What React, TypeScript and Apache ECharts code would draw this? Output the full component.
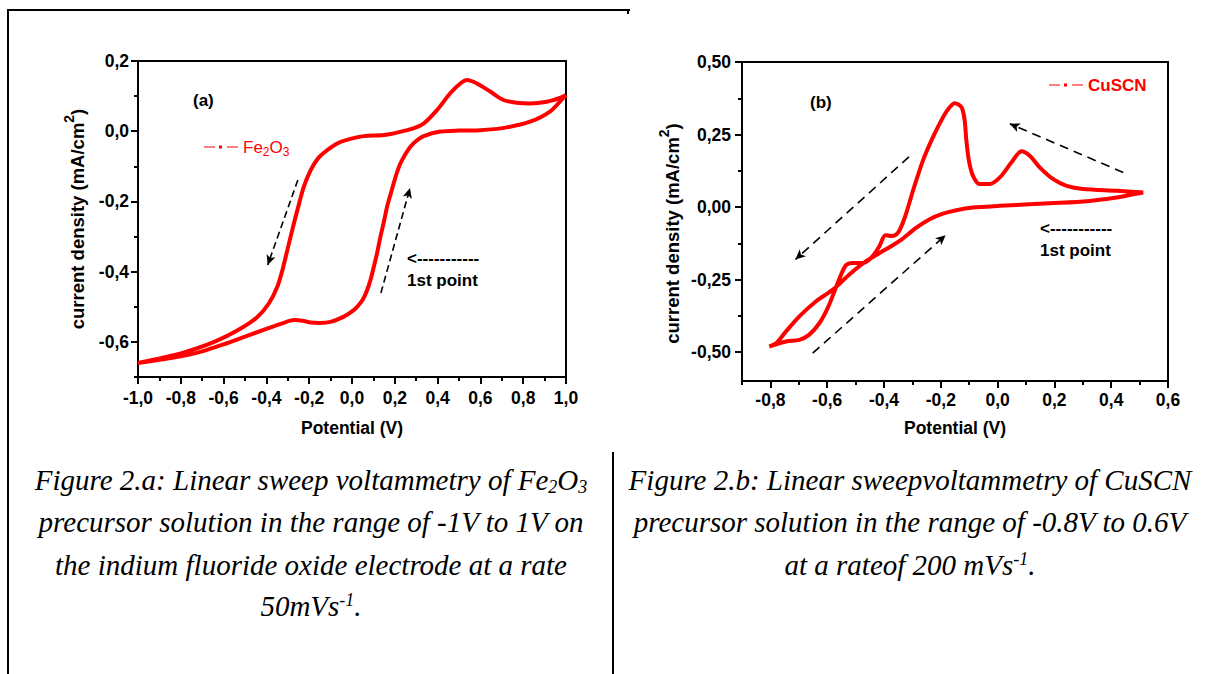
import { useEffect, useRef } from 'react';
import * as echarts from 'echarts';

const SANS = '"Liberation Sans", Arial, sans-serif';
const SERIF = '"Liberation Serif", "Times New Roman", serif';
const RED = '#ff0000';

// ---------- Panel (a): Fe2O3 ----------
const feReversePotential = [1.0, 0.972, 0.91, 0.832, 0.77, 0.708, 0.646, 0.584, 0.537, 0.506, 0.459, 0.397, 0.335, 0.287, 0.21, 0.148, 0.055, -0.02, -0.069, -0.133, -0.162, -0.193, -0.225, -0.255, -0.279, -0.302, -0.325, -0.349, -0.388, -0.442, -0.52, -0.644, -0.8, -0.9, -1.0];
const feReverseCurrent = [0.103, 0.095, 0.084, 0.079, 0.081, 0.089, 0.113, 0.136, 0.146, 0.136, 0.108, 0.06, 0.022, 0.008, -0.004, -0.011, -0.014, -0.024, -0.035, -0.062, -0.08, -0.111, -0.158, -0.224, -0.281, -0.338, -0.395, -0.443, -0.49, -0.529, -0.562, -0.6, -0.633, -0.647, -0.66];
const feForwardPotential = [-0.9, -0.8, -0.7, -0.6, -0.5, -0.4, -0.33, -0.271, -0.23, -0.193, -0.15, -0.1, -0.038, 0.0, 0.024, 0.05, 0.071, 0.088, 0.102, 0.118, 0.133, 0.149, 0.164, 0.18, 0.195, 0.21, 0.226, 0.25, 0.273, 0.3, 0.335, 0.413, 0.5, 0.599, 0.724, 0.832, 0.925, 0.986, 1.0];
const feForwardCurrent = [-0.651, -0.641, -0.627, -0.607, -0.585, -0.563, -0.548, -0.538, -0.54, -0.545, -0.546, -0.543, -0.528, -0.513, -0.5, -0.48, -0.452, -0.42, -0.386, -0.345, -0.3, -0.258, -0.215, -0.18, -0.148, -0.118, -0.092, -0.065, -0.044, -0.028, -0.014, -0.001, 0.002, 0.003, 0.011, 0.027, 0.056, 0.094, 0.103];
const feXMajor = [-1, -0.8, -0.6, -0.4, -0.2, 0, 0.2, 0.4, 0.6, 0.8, 1];
const feXMinor = [-0.9, -0.7, -0.5, -0.3, -0.1, 0.1, 0.3, 0.5, 0.7, 0.9];
const feYMajor = [-0.6, -0.4, -0.2, 0, 0.2];
const feYMinor = [-0.7, -0.5, -0.3, -0.1, 0.1];
// sweep-direction arrows: [fromPotential, fromCurrent, toPotential, toCurrent]
const feArrows = [
  [-0.253, -0.139, -0.394, -0.381],
  [0.135, -0.461, 0.271, -0.162],
];

// ---------- Panel (b): CuSCN ----------
const cuForwardPotential = [0.513, 0.478, 0.419, 0.301, 0.125, 0.008, -0.087, -0.145, -0.192, -0.239, -0.286, -0.345, -0.404, -0.463, -0.522, -0.58, -0.639, -0.698, -0.745, -0.78, -0.804];
const cuForwardCurrent = [0.05, 0.044, 0.033, 0.019, 0.01, 0.004, -0.002, -0.011, -0.023, -0.042, -0.071, -0.117, -0.152, -0.187, -0.233, -0.285, -0.325, -0.377, -0.429, -0.47, -0.481];
const cuReversePotential = [-0.745, -0.698, -0.663, -0.627, -0.598, -0.574, -0.551, -0.533, -0.51, -0.475, -0.445, -0.416, -0.395, -0.374, -0.351, -0.327, -0.298, -0.263, -0.228, -0.192, -0.169, -0.151, -0.127, -0.116, -0.11, -0.101, -0.087, -0.063, -0.028, 0.008, 0.049, 0.084, 0.113, 0.149, 0.196, 0.243, 0.301, 0.419, 0.513];
const cuReverseCurrent = [-0.464, -0.458, -0.44, -0.4, -0.348, -0.29, -0.233, -0.2, -0.193, -0.193, -0.175, -0.135, -0.097, -0.1, -0.089, -0.037, 0.056, 0.16, 0.24, 0.31, 0.344, 0.358, 0.344, 0.298, 0.229, 0.16, 0.108, 0.079, 0.079, 0.102, 0.154, 0.192, 0.177, 0.136, 0.096, 0.073, 0.062, 0.056, 0.05];
const cuXMajor = [-0.8, -0.6, -0.4, -0.2, 0, 0.2, 0.4, 0.6];
const cuXMinor = [-0.9, -0.7, -0.5, -0.3, -0.1, 0.1, 0.3, 0.5];
const cuYMajor = [-0.5, -0.25, 0, 0.25, 0.5];
const cuYMinor = [-0.375, -0.125, 0.125, 0.375];
const cuArrows = [
  [-0.312, 0.173, -0.712, -0.181],
  [-0.651, -0.504, -0.183, -0.097],
  [0.4425, 0.119, 0.043, 0.287],
];

const zip = (xs: number[], ys: number[]) => xs.map((x, i) => [x, ys[i]]);
const comma = (d: number) => (v: number) => v.toFixed(d).replace('.', ',');

const labelFont = { color: '#000', fontSize: 17.5, fontWeight: 'bold' as const, fontFamily: SANS };
const axisLine = { show: true, onZero: false, lineStyle: { color: '#000', width: 2 } };

function mainX(gridIndex: number, min: number, max: number, major: number[], margin: number, nameGap: number) {
  return {
    type: 'value', gridIndex, min, max, position: 'bottom',
    axisLine,
    axisTick: { show: true, inside: false, length: 7, customValues: major, lineStyle: { color: '#000', width: 2 } },
    axisLabel: { show: true, customValues: major, margin, formatter: comma(1), ...labelFont },
    splitLine: { show: false },
    name: 'Potential (V)', nameLocation: 'middle', nameGap,
    nameTextStyle: { ...labelFont },
  };
}
function minorX(gridIndex: number, min: number, max: number, minor: number[]) {
  return {
    type: 'value', gridIndex, min, max, position: 'bottom',
    axisLine: { show: false, onZero: false },
    axisTick: { show: true, inside: false, length: 4, customValues: minor, lineStyle: { color: '#000', width: 2 } },
    axisLabel: { show: false }, splitLine: { show: false },
  };
}
function mainY(gridIndex: number, min: number, max: number, major: number[], dec: number, margin: number, nameGap: number, pad: number[]) {
  return {
    type: 'value', gridIndex, min, max, position: 'left',
    axisLine,
    axisTick: { show: true, inside: false, length: 7, customValues: major, lineStyle: { color: '#000', width: 2 } },
    axisLabel: { show: true, customValues: major, margin, formatter: comma(dec), ...labelFont },
    splitLine: { show: false },
    name: 'current density (mA/cm{sup|2})', nameLocation: 'middle', nameRotate: 90, nameGap,
    nameTextStyle: {
      ...labelFont, fontSize: 18.5, lineHeight: 30, padding: pad,
      rich: { sup: { fontSize: 14, lineHeight: 14, verticalAlign: 'top', fontWeight: 'bold', fontFamily: SANS, color: '#000' } },
    },
  };
}
function minorY(gridIndex: number, min: number, max: number, minor: number[]) {
  return {
    type: 'value', gridIndex, min, max, position: 'left',
    axisLine: { show: false, onZero: false },
    axisTick: { show: true, inside: false, length: 4, customValues: minor, lineStyle: { color: '#000', width: 2 } },
    axisLabel: { show: false }, splitLine: { show: false },
  };
}

const arrowLine = (arrows: number[][], dash: number[]) => ({
  silent: true,
  symbol: ['none', 'arrow'],
  symbolSize: [7, 10],
  label: { show: false },
  emphasis: { disabled: true },
  lineStyle: { color: '#000', width: 1.6, type: dash },
  data: arrows.map((a) => [{ coord: [a[0], a[1]] }, { coord: [a[2], a[3]] }]),
});

const LEGEND_ICON = 'path://M0,1h11v1h-11zM15,0h3v3h-3zM23,1h11v1h-11z';

const capRich = {
  n: { fontFamily: SERIF, fontStyle: 'italic', fontSize: 29, lineHeight: 31, fill: '#000' },
  s: { fontFamily: SERIF, fontStyle: 'italic', fontSize: 18, lineHeight: 18, verticalAlign: 'bottom', fill: '#000' },
  p: { fontFamily: SERIF, fontStyle: 'italic', fontSize: 18, lineHeight: 18, verticalAlign: 'top', fill: '#000' },
};
const caption = (text: string, x: number, y: number) => ({
  type: 'text', x, y, silent: true,
  style: { text, align: 'center', verticalAlign: 'middle', rich: capRich, fill: '#000' },
});
const note = (text: string, x: number, y: number) => ({
  type: 'text', x, y, silent: true,
  style: { text, align: 'left', verticalAlign: 'middle', font: `bold 17px ${SANS}`, fill: '#000' },
});
const rule = (x1: number, y1: number, x2: number, y2: number) => ({
  type: 'line', silent: true, shape: { x1, y1, x2, y2 }, style: { stroke: '#000', lineWidth: 2 },
});

export default function App() {
  const ref = useRef<HTMLDivElement>(null);
  useEffect(() => {
    if (!ref.current) return;
    const chart = echarts.init(ref.current, undefined, { renderer: 'svg' });
    const feData = zip(feReversePotential, feReverseCurrent).concat(zip(feForwardPotential, feForwardCurrent));
    const cuData = zip(cuForwardPotential, cuForwardCurrent).concat(zip(cuReversePotential, cuReverseCurrent));
    chart.setOption({
      animation: false,
      backgroundColor: '#fff',
      grid: [
        { left: 138, top: 61, width: 428, height: 316, show: true, borderColor: '#000', borderWidth: 2, backgroundColor: 'transparent', containLabel: false, outerBoundsMode: 'none' },
        { left: 742, top: 62, width: 426, height: 319, show: true, borderColor: '#000', borderWidth: 2, backgroundColor: 'transparent', containLabel: false, outerBoundsMode: 'none' },
      ],
      xAxis: [
        mainX(0, -1, 1, feXMajor, 12, 42),
        minorX(0, -1, 1, feXMinor),
        mainX(1, -0.9, 0.6, cuXMajor, 10, 38),
        minorX(1, -0.9, 0.6, cuXMinor),
      ],
      yAxis: [
        mainY(0, -0.7, 0.2, feYMajor, 1, 9, 46, [0, 0, 0, 0]),
        minorY(0, -0.7, 0.2, feYMinor),
        mainY(1, -0.6, 0.5, cuYMajor, 2, 11, 43, [0, 24, 0, 0]),
        minorY(1, -0.6, 0.5, cuYMinor),
      ],
      legend: [
        {
          data: ['Fe2O3'], left: 204, top: 136, padding: 0, selectedMode: false,
          icon: LEGEND_ICON, itemWidth: 34, itemHeight: 3, itemStyle: { borderWidth: 0 },
          formatter: () => '{n|Fe}{s|2}{n|O}{s|3}',
          textStyle: {
            color: RED, fontSize: 17, fontFamily: SANS, lineHeight: 22,
            rich: {
              n: { color: RED, fontSize: 17, fontFamily: SANS, lineHeight: 22 },
              s: { color: RED, fontSize: 12, fontFamily: SANS, lineHeight: 12, verticalAlign: 'bottom' },
            },
          },
        },
        {
          data: ['CuSCN'], left: 1049, top: 75, padding: 0, selectedMode: false,
          icon: LEGEND_ICON, itemWidth: 34, itemHeight: 3, itemStyle: { borderWidth: 0 },
          textStyle: { color: RED, fontSize: 17, fontWeight: 'bold', fontFamily: SANS, lineHeight: 20 },
        },
      ],
      series: [
        {
          type: 'line', name: 'Fe2O3', xAxisIndex: 0, yAxisIndex: 0, data: feData,
          symbol: 'none', showSymbol: false, smooth: 0.3, z: 3,
          lineStyle: { color: RED, width: 4 }, itemStyle: { color: RED },
          markLine: arrowLine(feArrows, [7, 4]),
        },
        {
          type: 'line', name: 'CuSCN', xAxisIndex: 2, yAxisIndex: 2, data: cuData,
          symbol: 'none', showSymbol: false, smooth: 0.3, z: 3,
          lineStyle: { color: RED, width: 4 }, itemStyle: { color: RED },
          markLine: arrowLine(cuArrows, [9, 6]),
        },
      ],
      graphic: [
        rule(8, 10, 630, 10),
        rule(8, 9, 8, 674),
        rule(628, 10, 628, 14),
        rule(613, 452, 613, 674),
        note('(a)', 193, 100),
        note('<-----------', 407, 258),
        note('1st point', 407, 280),
        note('(b)', 810, 102),
        note('<-----------', 1040, 228),
        note('1st point', 1040, 250),
        caption('{n|Figure 2.a: Linear sweep voltammetry of Fe}{s|2}{n|O}{s|3}', 311, 480),
        caption('{n|precursor solution in the range of -1V to 1V on}', 311, 522),
        caption('{n|the indium fluoride oxide electrode at a rate}', 311, 565),
        caption('{n|50mVs}{p|-1}{n|.}', 311, 606),
        caption('{n|Figure 2.b: Linear sweepvoltammetry of CuSCN}', 910, 480),
        caption('{n|precursor solution in the range of -0.8V to 0.6V}', 910, 522),
        caption('{n|at a rateof 200 mVs}{p|-1}{n|.}', 910, 565),
      ],
    });
    return () => chart.dispose();
  }, []);
  return (
    <div
      ref={ref}
      style={{ position: 'fixed', left: 0, top: 0, width: 1206, height: 674, background: '#fff' }}
    />
  );
}
